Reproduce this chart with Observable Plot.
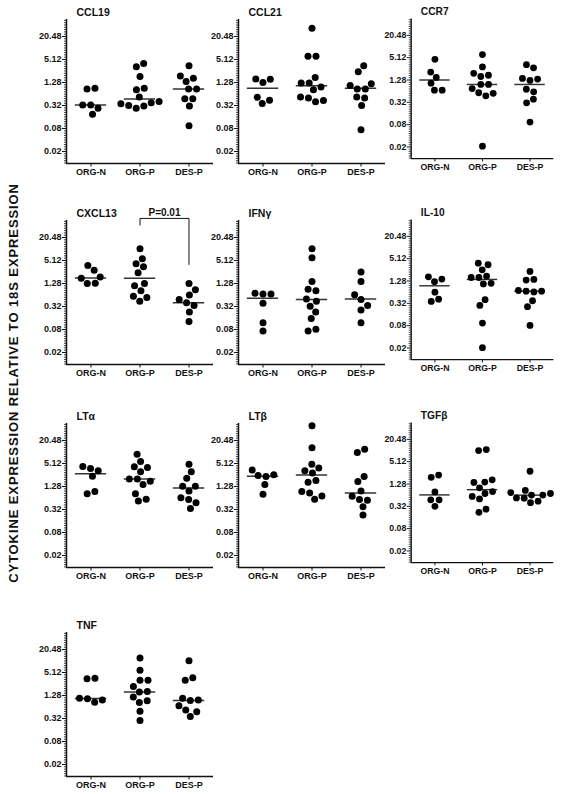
<!DOCTYPE html>
<html><head><meta charset="utf-8">
<script src="https://cdn.jsdelivr.net/npm/d3@7"></script>
<script src="https://cdn.jsdelivr.net/npm/@observablehq/plot@0.6"></script>
<style>
body{margin:0;background:#fff;}
#root{position:relative;width:563px;height:794px;overflow:hidden;font-family:"Liberation Sans",Arial,sans-serif;background:#fff;}
.panel{position:absolute;}
#ylab{position:absolute;left:13px;top:383px;transform:translate(-50%,-50%) rotate(-90deg);white-space:nowrap;font-weight:bold;font-size:13px;letter-spacing:0.9px;color:#111;}
</style></head><body>
<div id="root"><div id="ylab">CYTOKINE EXPRESSION RELATIVE TO 18S EXPRESSION</div></div>
<script>
const groups = ["ORG-N", "ORG-P", "DES-P"];
const yTicks = [0.02, 0.08, 0.32, 1.28, 5.12, 20.48];
const yDomain = [0.0097, 57];
const panelNames = ["CCL19", "CCL21", "CCR7", "CXCL13", "IFNγ", "IL-10", "LTα", "LTβ", "TGFβ", "TNF"];

// values per group: [ORG-N, ORG-P, DES-P]
const CCL19 = [[0.91, 0.86, 0.33, 0.33, 0.27, 0.19],
  [4.0, 3.3, 1.83, 0.91, 0.83, 0.53, 0.41, 0.375, 0.354, 0.32, 0.31, 0.27],
  [3.5, 1.9, 1.66, 1.36, 0.86, 0.86, 0.48, 0.48, 0.31, 0.094]];
const CCL21 = [[1.59, 1.55, 1.28, 0.525, 0.44, 0.36],
  [33.6, 6.2, 6.2, 1.72, 1.25, 1.25, 0.97, 0.83, 0.53, 0.50, 0.43, 0.40],
  [3.5, 2.46, 1.18, 1.07, 0.86, 0.86, 0.535, 0.50, 0.32, 0.074]];
const CCR7 = [[4.63, 2.10, 1.50, 1.05, 0.68, 0.68],
  [6.2, 2.88, 1.94, 1.72, 1.59, 0.97, 0.97, 0.75, 0.58, 0.56, 0.48, 0.021],
  [3.31, 2.72, 1.41, 1.36, 1.25, 0.72, 0.615, 0.39, 0.31, 0.094]];
const CXCL13 = [[3.8, 2.83, 1.90, 1.76, 1.30, 1.28],
  [10.4, 5.66, 4.2, 3.51, 2.46, 1.28, 1.11, 0.83, 0.59, 0.55, 0.44],
  [1.28, 0.88, 0.64, 0.485, 0.40, 0.34, 0.23, 0.13]];
const IFNG = [[0.71, 0.68, 0.68, 0.39, 0.121, 0.0726],
  [10.4, 6.0, 1.44, 0.91, 0.83, 0.50, 0.44, 0.326, 0.23, 0.154, 0.0815, 0.0726],
  [2.56, 1.44, 0.65, 0.485, 0.34, 0.26, 0.121]];
const IL10 = [[1.66, 1.44, 1.23, 0.64, 0.415, 0.36],
  [3.88, 3.51, 2.56, 1.72, 1.59, 1.59, 1.11, 1.07, 0.40, 0.28, 0.094, 0.0204],
  [2.32, 1.41, 1.36, 0.71, 0.68, 0.68, 0.65, 0.375, 0.26, 0.081]];
const LTA = [[4.29, 3.80, 3.31, 2.37, 0.95, 0.83],
  [8.9, 5.77, 4.2, 4.0, 3.12, 2.02, 2.02, 1.76, 1.44, 0.83, 0.59, 0.53],
  [4.92, 3.12, 2.10, 1.30, 1.30, 0.97, 0.65, 0.58, 0.48, 0.34]];
const LTB = [[3.44, 2.61, 2.48, 2.32, 1.44, 0.80],
  [49.8, 13.2, 4.92, 3.88, 3.31, 2.88, 1.83, 1.66, 0.95, 0.86, 0.72, 0.59],
  [12.0, 9.9, 2.32, 1.72, 0.97, 0.71, 0.58, 0.56, 0.375, 0.23]];
const TGFB = [[2.23, 1.94, 0.78, 0.48, 0.48, 0.32],
  [10.9, 10.2, 1.66, 1.44, 1.41, 1.01, 0.80, 0.71, 0.59, 0.505, 0.268, 0.22],
  [2.83, 0.86, 0.75, 0.71, 0.645, 0.645, 0.54, 0.53, 0.44, 0.40]];
const TNF = [[3.6, 3.5, 1.08, 1.05, 0.98, 0.85],
  [12.2, 5.88, 3.19, 3.19, 2.19, 1.63, 1.59, 1.16, 0.93, 0.845, 0.495, 0.285],
  [10.4, 3.73, 3.19, 1.09, 0.97, 0.95, 0.69, 0.535, 0.48, 0.36]];

// median lines: [ORG-N, ORG-P, DES-P]
const CCL19_med = [0.33, 0.47, 0.86];
const CCL21_med = [0.90, 1.05, 0.90];
const CCR7_med = [1.28, 0.97, 0.97];
const CXCL13_med = [1.79, 1.76, 0.40];
const IFNG_med = [0.525, 0.485, 0.50];
const IL10_med = [0.95, 1.41, 0.68];
const LTA_med = [2.77, 2.02, 1.16];
const LTB_med = [2.37, 2.56, 0.86];
const TGFB_med = [0.65, 0.90, 0.64];
const TNF_med = [1.07, 1.59, 0.95];

// significance bracket on CXCL13 (ORG-P vs DES-P)
const pLabel = "P=0.01";
const bracketGroup = [1, 1, 2, 2];
const bracketValue = [43.4, 64.6, 64.6, 4.03];

const panelData = [CCL19, CCL21, CCR7, CXCL13, IFNG, IL10, LTA, LTB, TGFB, TNF];
const panelMed = [CCL19_med, CCL21_med, CCR7_med, CXCL13_med, IFNG_med, IL10_med, LTA_med, LTB_med, TGFB_med, TNF_med];

// layout
const colX = [66, 238, 412];
const rowTop = [19, 220, 423, 632];
const mL = 45, mR = 10, mT = 20, mB = 25, innerW = 147, innerH = 144;
const step = innerW / 3;
const D = 8; // dot spacing for swarm (px)

const yPx = d3.scaleLog().domain(yDomain).range([innerH, 0]);

function swarm(vals) {
  const n = vals.length;
  const ys = vals.map(v => yPx(v));
  const idx = d3.range(n).sort((a, b) => vals[a] - vals[b]);
  const xs = new Array(n);
  const placed = [];
  for (const i of idx) {
    const y = ys[i];
    const iv = [];
    for (const j of placed) {
      const dy = Math.abs(ys[j] - y);
      if (dy < D) { const w = Math.sqrt(D * D - dy * dy); iv.push([xs[j] - w, xs[j] + w]); }
    }
    const cands = [0];
    for (const [a, b] of iv) cands.push(a, b);
    const ok = cands.filter(c => iv.every(([a, b]) => c <= a + 1e-6 || c >= b - 1e-6));
    const near = placed.filter(j => Math.abs(ys[j] - y) < 2 * D);
    const bal = d3.sum(near, j => xs[j]);
    ok.sort((a, b) => (Math.round(Math.abs(a) * 2) - Math.round(Math.abs(b) * 2)) || (bal > 0 ? a - b : b - a));
    xs[i] = ok[0];
    placed.push(i);
  }
  // center connected clusters
  const parent = d3.range(n);
  const find = i => parent[i] === i ? i : (parent[i] = find(parent[i]));
  for (let i = 0; i < n; i++) for (let j = i + 1; j < n; j++) {
    if (Math.hypot(xs[i] - xs[j], ys[i] - ys[j]) < D + 0.5) parent[find(i)] = find(j);
  }
  const clusters = d3.groups(d3.range(n), i => find(i)).map(d => d[1]).filter(c => c.length > 1);
  for (const c of clusters) {
    const shift = -d3.mean(c, i => xs[i]);
    const inC = new Set(c);
    const clash = c.some(i => d3.range(n).some(j => !inC.has(j) && Math.hypot(xs[i] + shift - xs[j], ys[i] - ys[j]) < D - 0.5));
    if (!clash) for (const i of c) xs[i] += shift;
  }
  return xs;
}

// minor ticks evenly spaced in log space between majors
const minorTicks = [];
for (let m = yTicks[0] / 4; m < yDomain[1]; m *= 4) {
  for (let k = 1; k < 10; k++) {
    const t = m * Math.pow(4, k / 10);
    if (t > yDomain[0] && t < yDomain[1]) minorTicks.push(t);
  }
}

const root = document.getElementById("root");
panelNames.forEach((name, p) => {
  const col = p % 3, row = Math.floor(p / 3);
  const pts = [];
  panelData[p].forEach((vals, g) => {
    const offs = swarm(vals);
    vals.forEach((v, k) => pts.push({g, v, x: g + offs[k] / step}));
  });
  const meds = panelMed[p].map((m, g) => ({g, m}));
  const marks = [
    Plot.ruleY(minorTicks, {y: d => d, x1: -0.5 - 2 / step, x2: -0.5, stroke: "#111", strokeWidth: 0.8}),
    Plot.ruleY(yTicks, {y: d => d, x1: -0.5 - 4 / step, x2: -0.5, stroke: "#111", strokeWidth: 1}),
    Plot.text(yTicks, {y: d => d, text: d => String(d), frameAnchor: "left", dx: -5, textAnchor: "end", fill: "#111"}),
    Plot.axisX({ticks: [0, 1, 2], tickFormat: i => groups[i], tickSize: 3.5, tickPadding: 2, label: null}),
    Plot.ruleX([-0.5], {stroke: "#111", strokeWidth: 1.5}),
    Plot.ruleY([yDomain[0]], {stroke: "#111", strokeWidth: 1.5}),
    Plot.ruleY(meds, {y: "m", x1: d => d.g - 0.32, x2: d => d.g + 0.32, stroke: "#333", strokeWidth: 1.5}),
    Plot.dot(pts, {x: "x", y: "v", r: 3.5, fill: "black"}),
    Plot.text([name], {frameAnchor: "top-left", dx: 10, dy: -11, fontSize: 10.5, fontWeight: "bold", textAnchor: "start"})
  ];
  if (name === "CXCL13") {
    const br = bracketGroup.map((g, i) => ({g, v: bracketValue[i]}));
    marks.push(Plot.line(br, {x: "g", y: "v", stroke: "#111", strokeWidth: 1}));
    marks.push(Plot.text([pLabel], {x: 1.5, y: bracketValue[1], dy: -6, fontSize: 10, fontWeight: "bold", letterSpacing: 1}));
  }
  const svg = Plot.plot({
    width: mL + innerW + mR, height: mT + innerH + mB,
    marginLeft: mL, marginRight: mR, marginTop: mT, marginBottom: mB,
    style: {fontFamily: '"Liberation Sans", Arial, sans-serif', fontSize: "9px", fontWeight: "bold", background: "transparent", overflow: "visible", color: "#111"},
    x: {domain: [-0.5, 2.5]},
    y: {type: "log", domain: yDomain, axis: null},
    marks
  });
  const wrap = document.createElement("div");
  wrap.className = "panel";
  wrap.style.left = (colX[col] - mL) + "px";
  wrap.style.top = (rowTop[row] - mT) + "px";
  wrap.appendChild(svg);
  root.appendChild(wrap);
});
</script>
</body></html>
